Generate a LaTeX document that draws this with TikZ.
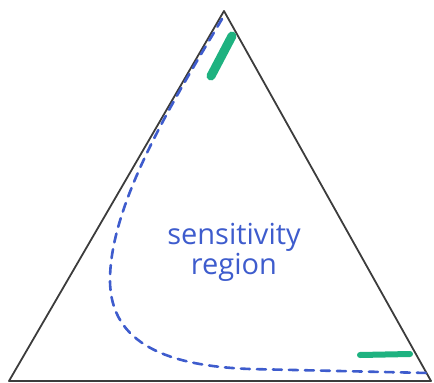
\documentclass[tikz,border=0pt]{standalone}
\usepackage{fontspec}
\setsansfont{Open Sans}
\definecolor{penblue}{RGB}{62,92,205}
\definecolor{markgreen}{RGB}{30,178,128}
\definecolor{pengray}{RGB}{60,60,60}
\begin{document}
\begin{tikzpicture}[
      x=1pt, y=-1pt,
      side/.style={draw=pengray, line width=1.8pt, line join=round},
      region/.style={draw=penblue, line width=2.6pt, dash pattern=on 9pt off 7pt, line cap=round},
      marker/.style={draw=markgreen, line width=7pt, line cap=round},
      every node/.style={font=\sffamily}
    ]
      \useasboundingbox (0,0) rectangle (434,383);
      \coordinate (apex) at (224,11);
      \coordinate (left) at (9,381);
      \coordinate (right) at (431,381);
      \draw[side] (apex) -- (left) -- (right) -- cycle;
      % boundary of the region
      \draw[region] (222,19) .. controls (180,90) and (110,200) .. (110,280)
        .. controls (110,345) and (170,366) .. (250,369) -- (428,373);
      \draw[marker, line width=9pt] (232,36) -- (211,76);
      \draw[marker, line width=6pt] (360,355) -- (410,354);
      \node[text=penblue, align=center, font=\sffamily\fontsize{29}{30}\selectfont]
        (label) at (234,252) {sensitivity\\region};
    \end{tikzpicture}
\end{document}
